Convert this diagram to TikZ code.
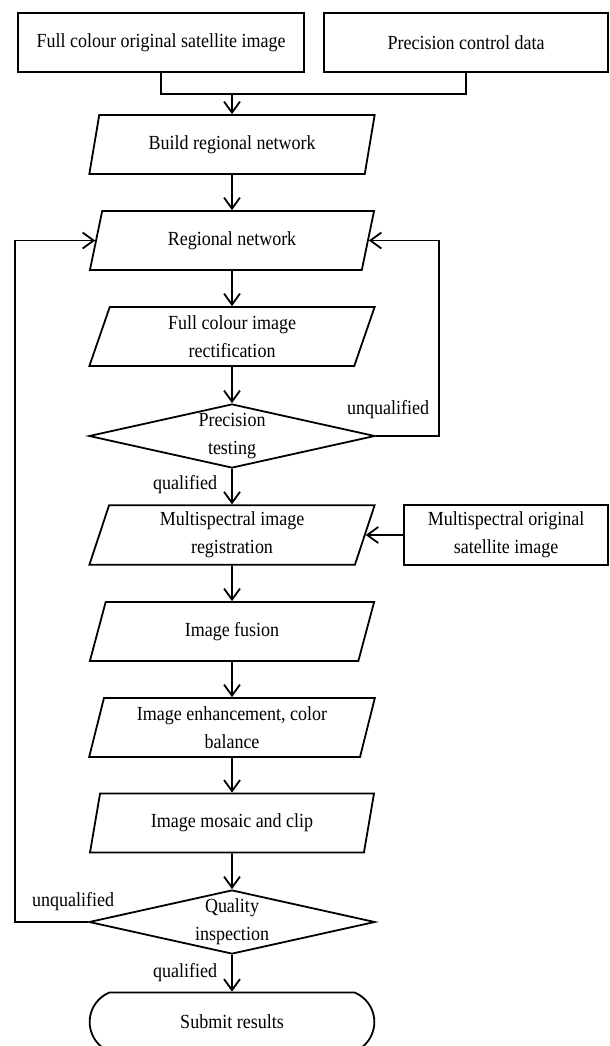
\documentclass[tikz,border=0pt]{standalone}
\usepackage{fontspec}
\setmainfont{Liberation Serif}[FakeStretch=0.9]
\usetikzlibrary{arrows.meta}
\usetikzlibrary{positioning}
\usetikzlibrary{shapes.geometric}
\usetikzlibrary{shapes.misc}
\tikzset{every node/.style = {font=\fontsize{10}{14}\selectfont},
         databox/.style = {draw, line width=0.9pt, rectangle, align=center,
                           minimum width=143pt, minimum height=29.5pt},
         proc/.style = {draw, line width=0.9pt, trapezium, align=center,
                        trapezium left angle=78, trapezium right angle=102,
                        trapezium stretches=true,
                        minimum width=143pt, minimum height=29.5pt},
         decide/.style = {draw, line width=0.9pt, diamond, aspect=4.4, inner sep=0pt,
                          align=center, minimum width=143pt, minimum height=32pt},
         term/.style = {draw, line width=0.9pt, rounded rectangle,
                        rounded rectangle arc length=135,
                        minimum width=149pt, minimum height=29.5pt},
         arr/.style = {-{Straight Barb[length=5.5pt,width=8pt]}, line width=0.9pt},
         lnk/.style = {line width=0.9pt}}

\begin{document}
\begin{tikzpicture}[x=0.5pt, y=-0.5pt]
    \useasboundingbox (0, 0) rectangle (610, 1046);

    \node [databox] (fullimg) at (161, 42.5) {Full colour original satellite image};
    \node [databox, minimum width=142pt] (ctrldata) at (466, 42.5) {Precision control data};
    \coordinate (join) at (232, 94);

    \node [proc] (build) at (232, 144.5) {Build regional network};
    \node [proc] (regnet) at (232, 240.5) {Regional network};
    \node [proc] (rectif) at (232, 336.5) {Full colour image\\rectification};
    \node [decide] (prectest) at (232, 436) {Precision\\testing};
    \node [proc] (msreg) at (232, 535) {Multispectral image\\registration};
    \node [databox, minimum width=102pt] (msorig) at (506, 535) {Multispectral original\\satellite image};
    \node [proc] (fusion) at (232, 631.5) {Image fusion};
    \node [proc] (enhance) at (232, 727.5) {Image enhancement, color\\balance};
    \node [proc] (mosaic) at (232, 823) {Image mosaic and clip};
    \node [decide] (qualtest) at (232, 922) {Quality\\inspection};
    \node [term] (submit) at (232, 1022) {Submit results};

    \node (unqright) at (388, 410) {unqualified};
    \node (qualone) at (185, 485) {qualified};
    \node (unqleft) at (73, 902) {unqualified};
    \node (qualtwo) at (185, 973) {qualified};

    \draw [lnk] (fullimg.south) |- (join) -| (ctrldata.south);
    \draw [arr] (join) -- (build.north);

    \foreach \a/\b in {build/regnet, regnet/rectif, rectif/prectest, prectest/msreg,
                       msreg/fusion, fusion/enhance, enhance/mosaic, mosaic/qualtest,
                       qualtest/submit, msorig/msreg} {
      \draw [arr] (\a) -- (\b);
    }

    % loops back to the regional network
    \coordinate (rloop) at (439, 0);
    \coordinate (lloop) at (15, 0);
    \draw [arr] (prectest.east) -- (prectest.east -| rloop) |- (regnet.east);
    \draw [arr] (qualtest.west) -- (qualtest.west -| lloop) |- (regnet.west);
\end{tikzpicture}
\end{document}
